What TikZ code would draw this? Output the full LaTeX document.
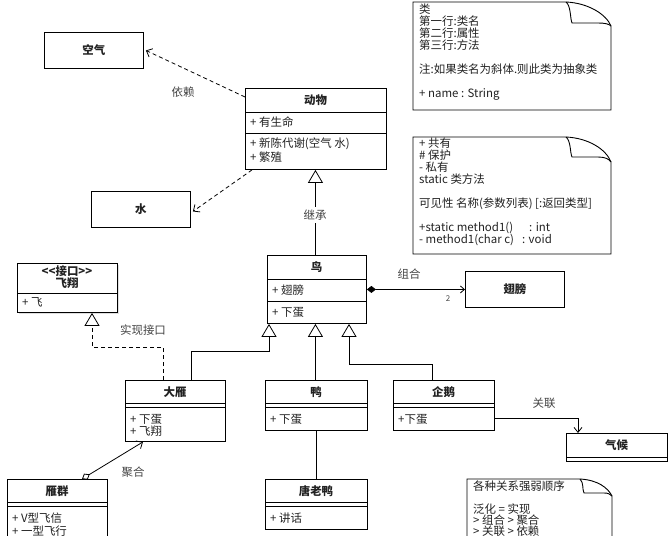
\documentclass[tikz,border=0pt]{standalone}
\usepackage{fontspec}
\setmainfont{Noto Sans CJK SC}
\usetikzlibrary{arrows.meta,shadows}
\definecolor{txt}{HTML}{222222}
\definecolor{lblc}{HTML}{444444}
\tikzset{
  basefont/.style={font=\fontsize{11.5}{12}\selectfont, text=txt},
  box/.style={draw, line width=0.9bp, fill=white, inner sep=0, anchor=north west},
  ttl/.style={font=\fontsize{11.5}{12}\selectfont\bfseries, text=txt, inner sep=0},
  item/.style={basefont, anchor=west, inner sep=0},
  lbl/.style={font=\fontsize{11.5}{12}\selectfont, text=lblc, inner sep=1bp},
  notetext/.style={basefont, anchor=north west, align=left, inner sep=0},
  notebox/.style={draw, line width=0.9bp, fill=white},
  sep/.style={line width=0.9bp},
  link/.style={draw, line width=0.8bp},
  dep/.style={link, dash pattern=on 4bp off 3bp, -{Straight Barb[length=5bp,width=9bp]}},
  inh/.style={link, -{Triangle[open, length=13bp, width=15bp, fill=white]}},
  real/.style={link, dash pattern=on 4bp off 3bp, -{Triangle[open, length=13bp, width=15bp, fill=white]}},
  comp/.style={link, {Diamond[length=9bp,width=7bp]}-{Straight Barb[length=4bp,width=7bp]}},
  aggr/.style={link, {Diamond[open,length=9bp,width=7bp]}-{Straight Barb[length=5bp,width=9bp]}},
  assoc/.style={link, -{Straight Barb[length=5bp,width=8bp]}},
}
\begin{document}
\begin{tikzpicture}[x=1bp,y=-1bp]
\useasboundingbox (0,0) rectangle (671,536);
\clip (0,0) rectangle (671,536);
\fill[white] (0,0) rectangle (671,536);

% ---------- notes ----------
\draw[notebox] (413,2) -- (566,2) .. controls (588,3) and (606,14) .. (611,26) -- (611,110) -- (413,110) -- cycle;
\draw[sep] (566,2) .. controls (571,6) and (570,18) .. (572,23) -- (598,23) .. controls (605,23) and (609,24) .. (611,26);
\node[notetext] (note1) at (419,4) {类\\第一行:类名\\第二行:属性\\第三行:方法\\[12bp]注:如果类名为斜体.则此类为抽象类\\[12bp]+ name : String};

\draw[notebox] (413,137) -- (566,137) .. controls (588,138) and (606,149) .. (611,162) -- (611,254) -- (413,254) -- cycle;
\draw[sep] (566,137) .. controls (571,141) and (570,153) .. (572,157) -- (598,157) .. controls (605,157) and (609,159) .. (611,162);
\node[notetext] (note2) at (419,138) {+ 共有\\\# 保护\\- 私有\\static 类方法\\[12bp]可见性 名称(参数列表) [:返回类型]\\[12bp]+static method1()\hspace{1.4em}: int\\- method1(char c)\hspace{0.7em}: void};

\draw[notebox] (467,479) -- (580,479) .. controls (598,480) and (608,488) .. (612,496) -- (612,560) -- (467,560) -- cycle;
\draw[sep] (580,479) .. controls (584,483) and (582,489) .. (584,493) -- (604,493) .. controls (608,493) and (610,494) .. (612,496);
\node[notetext, font=\fontsize{11.5}{11.3}\selectfont] (note3) at (473,481) {各种关系强弱顺序\\[11.3bp]泛化 = 实现\\> 组合 > 聚合\\> 关联 > 依赖};

% ---------- classes ----------
% 空气
\node[box, minimum width=99bp, minimum height=36bp] (air) at (44,32) {};
\node[ttl] (airT) at (air.center) {空气};
% 水
\node[box, minimum width=99bp, minimum height=36bp] (water) at (91,191) {};
\node[ttl] (waterT) at (water.center) {水};
% 动物
\node[box, minimum width=141bp, minimum height=81bp] (animal) at (245,88) {};
\node[ttl] (animalT) at (315.5,100) {动物};
\draw[sep] (245,112) -- (386,112);
\node[item] (animalA1) at (250,122.5) {+ 有生命};
\draw[sep] (245,133) -- (386,133);
\node[item] (animalM1) at (250,144) {+ 新陈代谢(空气 水)};
\node[item] (animalM2) at (250,157) {+ 繁殖};
% 鸟
\node[box, minimum width=99bp, minimum height=68bp] (bird) at (267,255) {};
\node[ttl] (birdT) at (316.5,267) {鸟};
\draw[sep] (267,279) -- (366,279);
\node[item] (birdA1) at (272,290) {+ 翅膀};
\draw[sep] (267,301) -- (366,301);
\node[item] (birdM1) at (272,312) {+ 下蛋};
% 翅膀
\node[box, minimum width=99bp, minimum height=36bp] (wing) at (465,271) {};
\node[ttl] (wingT) at (wing.center) {翅膀};
% 飞翔 interface
\node[box, minimum width=100bp, minimum height=49bp, drop shadow={opacity=0.25, shadow xshift=1.5bp, shadow yshift=-1.5bp}] (fly) at (17,263) {};
\node[ttl] (flyS) at (67,271) {<\kern0pt<接口>\kern0pt>};
\node[ttl] (flyT) at (67,283) {飞翔};
\draw[sep] (17,293) -- (117,293);
\node[item] (flyM1) at (22,302) {+ 飞};
% 大雁
\node[box, minimum width=100bp, minimum height=61bp] (goose) at (125,380) {};
\node[ttl] (gooseT) at (175,392) {大雁};
\draw[sep] (125,403) -- (225,403);
\draw[sep] (125,407) -- (225,407);
\node[item] (gooseM1) at (130,419.5) {+ 下蛋};
\node[item] (gooseM2) at (130,431) {+ 飞翔};
% 鸭
\node[box, minimum width=102bp, minimum height=50bp] (duck) at (265,380) {};
\node[ttl] (duckT) at (316,392) {鸭};
\draw[sep] (265,403) -- (367,403);
\draw[sep] (265,407) -- (367,407);
\node[item] (duckM1) at (270,419.5) {+ 下蛋};
% 企鹅
\node[box, minimum width=101bp, minimum height=50bp] (peng) at (393,380) {};
\node[ttl] (pengT) at (443.5,392) {企鹅};
\draw[sep] (393,403) -- (494,403);
\draw[sep] (393,407) -- (494,407);
\node[item] (pengM1) at (398,419.5) {+下蛋};
% 气候
\node[box, minimum width=101bp, minimum height=28bp] (clim) at (566,433) {};
\node[ttl] (climT) at (616.5,445) {气候};
\draw[sep] (566,457) -- (667,457);
% 唐老鸭
\node[box, minimum width=102bp, minimum height=50bp] (tang) at (265,479) {};
\node[ttl] (tangT) at (316,491) {唐老鸭};
\draw[sep] (265,502) -- (367,502);
\draw[sep] (265,506) -- (367,506);
\node[item] (tangM1) at (270,518) {+ 讲话};
% 雁群
\node[box, minimum width=100bp, minimum height=80bp] (flock) at (7,479) {};
\node[ttl] (flockT) at (57,491) {雁群};
\draw[sep] (7,502) -- (107,502);
\draw[sep] (7,506) -- (107,506);
\node[item] (flockM1) at (12,518) {+ V型飞信};
\node[item] (flockM2) at (12,531) {+ 一型飞行};

% ---------- connectors ----------
\draw[dep] ([yshift=-9bp]animal.north west) -- ([xshift=2bp]air.east);
\node[lbl] (depL) at (183,92) {依赖};
\draw[dep] ([xshift=7bp]animal.south west) -- ([xshift=2bp,yshift=-2bp]water.east);

\draw[inh] ([xshift=-1.5bp]bird.north) -- ([xshift=-1.5bp]bird.north |- animal.south);
\node[lbl, fill=white, inner ysep=3bp] (inhL) at (315,215) {继承};

\draw[comp] (bird.east) -- (wing.west);
\node[lbl] (compL) at (409,274) {组合};
\node[lbl, font=\fontsize{8}{9}\selectfont] (compN) at (448,299) {2};

\coordinate (birdIn1) at ([xshift=2bp]bird.south west);
\coordinate (birdIn3) at ([xshift=82bp]bird.south west);
\draw[inh] ([xshift=66bp]goose.north west) -- ++(0,-29) -| (birdIn1);
\draw[inh] ([xshift=-1bp]duck.north) -- ([xshift=-1bp]duck.north |- bird.south);
\draw[inh] ([xshift=39bp]peng.north west) -- ++(0,-16) -| (birdIn3);

\coordinate (flyIn) at ([xshift=75bp]fly.south west);
\draw[real] ([xshift=38bp]goose.north west) -- ++(0,-33) -| (flyIn);
\node[lbl] (realL) at (143,330) {实现接口};

\draw[aggr] ([xshift=75bp]flock.north west) -- ([xshift=18bp]goose.south west);
\node[lbl] (aggrL) at (133,472) {聚合};

\draw[link] (duck.south) -- (tang.north);

\draw[assoc] ([yshift=-13bp]peng.east) -| ([xshift=12bp]clim.north west);
\node[lbl] (assocL) at (544,403) {关联};
\end{tikzpicture}
\end{document}
